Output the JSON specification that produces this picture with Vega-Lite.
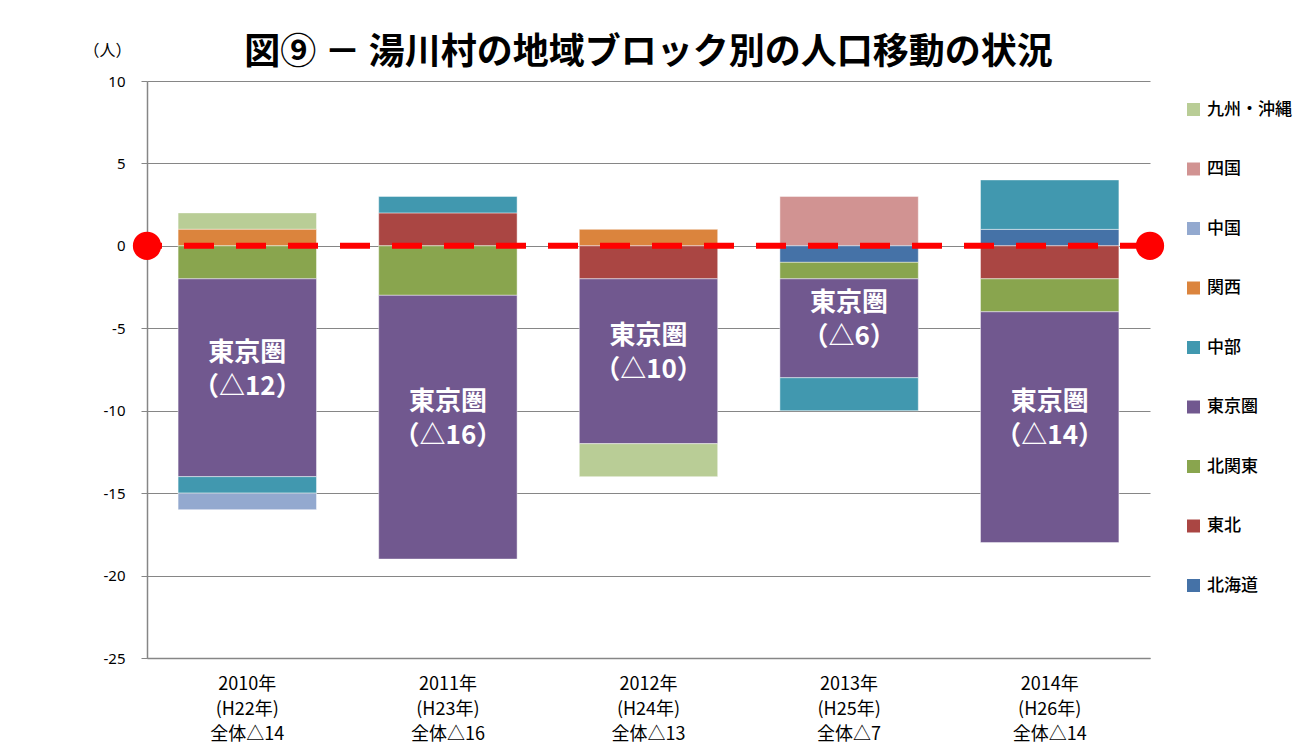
{
  "$schema": "https://vega.github.io/schema/vega-lite/v6.json",
  "width": 1003,
  "height": 577,
  "autosize": {"type": "none"},
  "padding": {"left": 147, "top": 81, "right": 158, "bottom": 89},
  "background": "white",
  "title": {
    "text": "図⑨ － 湯川村の地域ブロック別の人口移動の状況",
    "font": "Noto Sans CJK JP",
    "fontSize": 36,
    "fontWeight": "bold",
    "color": "#000000",
    "anchor": "middle",
    "offset": 12,
    "dy": 42
  },
  "data": {
    "values": [
      {"period": "2010年|(H22年)|全体△14", "region": "九州・沖縄", "k": 9, "value": 1},
      {"period": "2010年|(H22年)|全体△14", "region": "関西", "k": 6, "value": 1},
      {"period": "2010年|(H22年)|全体△14", "region": "北関東", "k": 3, "value": -2},
      {"period": "2010年|(H22年)|全体△14", "region": "東京圏", "k": 4, "value": -12},
      {"period": "2010年|(H22年)|全体△14", "region": "中部", "k": 5, "value": -1},
      {"period": "2010年|(H22年)|全体△14", "region": "中国", "k": 7, "value": -1},
      {"period": "2011年|(H23年)|全体△16", "region": "東北", "k": 2, "value": 2},
      {"period": "2011年|(H23年)|全体△16", "region": "中部", "k": 5, "value": 1},
      {"period": "2011年|(H23年)|全体△16", "region": "北関東", "k": 3, "value": -3},
      {"period": "2011年|(H23年)|全体△16", "region": "東京圏", "k": 4, "value": -16},
      {"period": "2012年|(H24年)|全体△13", "region": "関西", "k": 6, "value": 1},
      {"period": "2012年|(H24年)|全体△13", "region": "東北", "k": 2, "value": -2},
      {"period": "2012年|(H24年)|全体△13", "region": "東京圏", "k": 4, "value": -10},
      {"period": "2012年|(H24年)|全体△13", "region": "九州・沖縄", "k": 9, "value": -2},
      {"period": "2013年|(H25年)|全体△7", "region": "四国", "k": 8, "value": 3},
      {"period": "2013年|(H25年)|全体△7", "region": "北海道", "k": 1, "value": -1},
      {"period": "2013年|(H25年)|全体△7", "region": "北関東", "k": 3, "value": -1},
      {"period": "2013年|(H25年)|全体△7", "region": "東京圏", "k": 4, "value": -6},
      {"period": "2013年|(H25年)|全体△7", "region": "中部", "k": 5, "value": -2},
      {"period": "2014年|(H26年)|全体△14", "region": "北海道", "k": 1, "value": 1},
      {"period": "2014年|(H26年)|全体△14", "region": "中部", "k": 5, "value": 3},
      {"period": "2014年|(H26年)|全体△14", "region": "東北", "k": 2, "value": -2},
      {"period": "2014年|(H26年)|全体△14", "region": "北関東", "k": 3, "value": -2},
      {"period": "2014年|(H26年)|全体△14", "region": "東京圏", "k": 4, "value": -14}
    ]
  },
  "layer": [
    {
      "layer": [
        {
          "mark": {"type": "bar", "stroke": "#ffffff", "strokeWidth": 1, "strokeOpacity": 0.45},
          "encoding": {
            "x": {
              "field": "period",
              "type": "nominal",
              "sort": null,
              "title": null,
              "scale": {"paddingInner": 0.31, "paddingOuter": 0.155},
              "axis": {
                "labelExpr": "split(datum.value, '|')",
                "labelAngle": 0,
                "ticks": false,
                "grid": false,
                "domainColor": "#868686",
                "domainWidth": 1.5,
                "labelFont": "Noto Sans CJK JP",
                "labelFontSize": 18,
                "labelLineHeight": 25,
                "labelPadding": 17,
                "labelColor": "#000000",
                "labelBaseline": "top"
              }
            },
            "y": {
              "field": "value",
              "type": "quantitative",
              "stack": "zero",
              "title": "（人）",
              "scale": {"domain": [-25, 10], "nice": false, "zero": false},
              "axis": {
                "values": [-25, -20, -15, -10, -5, 0, 5, 10],
                "labelExpr": "replace(datum.label, '−', '-')",
                "grid": true,
                "gridColor": "#868686",
                "gridWidth": 1.2,
                "domainColor": "#868686",
                "domainWidth": 1.5,
                "tickColor": "#868686",
                "tickSize": 6,
                "labelPadding": 16,
                "labelFont": "Noto Sans",
                "labelFontSize": 15,
                "labelColor": "#000000",
                "titleAngle": 0,
                "titleX": -40,
                "titleY": -31,
                "titleAlign": "center",
                "titleBaseline": "middle",
                "titleFont": "Noto Sans CJK JP",
                "titleFontSize": 16,
                "titleFontWeight": "normal",
                "titleColor": "#000000"
              }
            },
            "color": {
              "field": "region",
              "type": "nominal",
              "scale": {
                "domain": ["九州・沖縄", "四国", "中国", "関西", "中部", "東京圏", "北関東", "東北", "北海道"],
                "range": ["#B9CD96", "#D19392", "#93A9CF", "#DB843D", "#4198AF", "#71588F", "#89A54E", "#AA4643", "#4572A7"]
              },
              "legend": {
                "title": null,
                "orient": "none",
                "legendX": 1038,
                "legendY": 20,
                "symbolType": "square",
                "symbolSize": 169,
                "symbolStrokeWidth": 0,
                "labelFont": "Noto Sans CJK JP",
                "labelFontSize": 17,
                "labelFontWeight": 500,
                "labelColor": "#000000",
                "labelOffset": 5,
                "rowPadding": 41.5
              }
            },
            "order": {"field": "k", "type": "quantitative"}
          }
        },
        {
          "transform": [
            {"stack": "value", "groupby": ["period"], "sort": [{"field": "k", "order": "ascending"}], "as": ["v0", "v1"]},
            {"filter": "datum.region === '東京圏'"},
            {"calculate": "(datum.v0 + datum.v1) / 2", "as": "mid"},
            {"calculate": "'東京圏\\n（△' + (-datum.value) + '）'", "as": "txt"}
          ],
          "mark": {
            "type": "text",
            "color": "#ffffff",
            "font": "Noto Sans CJK JP",
            "fontWeight": "bold",
            "fontSize": 26,
            "lineBreak": "\n",
            "lineHeight": 34,
            "baseline": "middle",
            "align": "center",
            "dy": -25
          },
          "encoding": {
            "x": {"field": "period", "type": "nominal", "sort": null},
            "y": {"field": "mid", "type": "quantitative", "title": "（人）"},
            "text": {"field": "txt", "type": "nominal"}
          }
        }
      ]
    },
    {
      "data": {"values": [{"baseline": 0}]},
      "mark": {"type": "rule", "color": "#FF0000", "strokeWidth": 6, "strokeDash": [30, 22], "strokeCap": "butt"},
      "encoding": {
        "y": {"field": "baseline", "type": "quantitative", "title": "（人）"}
      }
    },
    {
      "data": {"values": [{"end": 0, "baseline": 0}, {"end": 1, "baseline": 0}]},
      "mark": {"type": "circle", "size": 800, "color": "#FF0000", "opacity": 1},
      "encoding": {
        "x": {"field": "end", "type": "quantitative", "scale": {"domain": [0, 1], "nice": false, "zero": false}, "axis": null},
        "y": {"field": "baseline", "type": "quantitative", "title": "（人）"}
      }
    }
  ],
  "resolve": {"scale": {"x": "independent"}},
  "config": {
    "view": {"stroke": null},
    "font": "Noto Sans CJK JP"
  }
}
